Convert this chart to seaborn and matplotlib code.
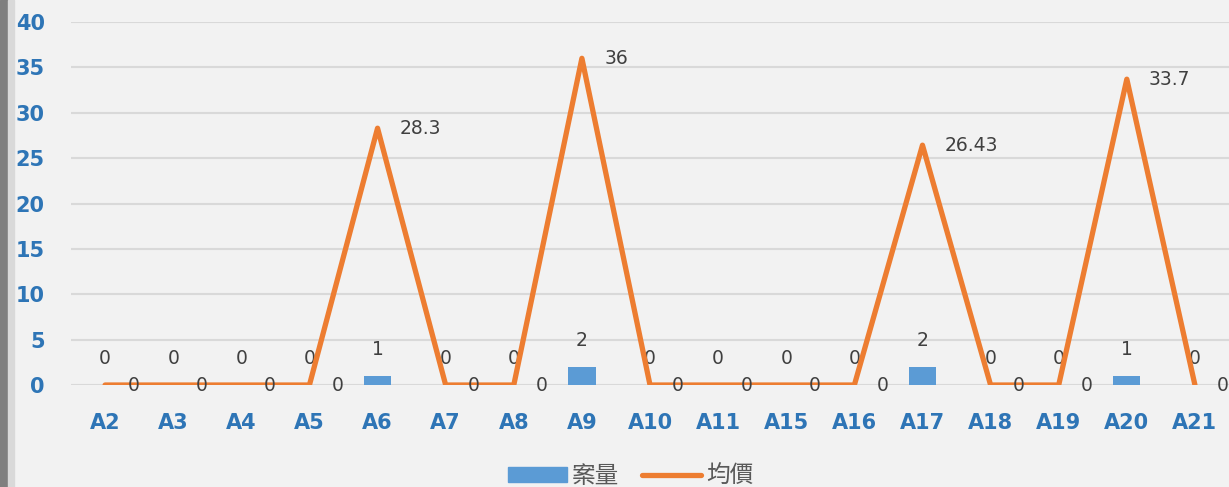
import numpy as np
import pandas as pd
import seaborn as sns
import matplotlib.pyplot as plt
from matplotlib.patches import Rectangle
from matplotlib.lines import Line2D

# data
categories = ['A2', 'A3', 'A4', 'A5', 'A6', 'A7', 'A8', 'A9', 'A10', 'A11',
              'A15', 'A16', 'A17', 'A18', 'A19', 'A20', 'A21']
case_count = [0, 0, 0, 0, 1, 0, 0, 2, 0, 0, 0, 0, 2, 0, 0, 1, 0]
avg_price = [0, 0, 0, 0, 28.3, 0, 0, 36, 0, 0, 0, 0, 26.43, 0, 0, 33.7, 0]
price_labels = ['0', '0', '0', '0', '28.3', '0', '0', '36', '0', '0',
                '0', '0', '26.43', '0', '0', '33.7', '0']
series_names = ['案量', '均價']
y_ticks = [0, 5, 10, 15, 20, 25, 30, 35, 40]

df = pd.DataFrame({'cat': categories, 'count': case_count, 'price': avg_price})
df['pos'] = np.arange(len(df))

bg = '#f2f2f2'
blue = '#5b9bd5'
orange = '#ed7d31'
tick_blue = '#2e75b6'
label_gray = '#404040'

sns.set_style('white')
plt.rcParams['font.family'] = ['DejaVu Sans', 'Noto Sans CJK TC']

fig = plt.figure(figsize=(12.29, 4.87), dpi=100, facecolor=bg)
ax = fig.add_axes([0.0578, 0.2094, 0.9422, 0.7454])
ax.set_facecolor(bg)

# left border strip of the screenshot
fig.patches.append(Rectangle((0, 0), 8 / 1229, 1, transform=fig.transFigure,
                             color='#7f7f7f', zorder=0))
fig.patches.append(Rectangle((8 / 1229, 0), 6 / 1229, 1, transform=fig.transFigure,
                             color='#d9d9d9', zorder=0))

sns.barplot(data=df, x='cat', y='count', color=blue, width=0.4,
            saturation=1, linewidth=0, ax=ax, zorder=3)
sns.lineplot(data=df, x='pos', y='price', color=orange, linewidth=3.8,
             ax=ax, zorder=4, solid_capstyle='round')

# data labels
ax.bar_label(ax.containers[0], labels=[str(v) for v in case_count], padding=12,
             fontsize=13.5, color=label_gray)
for xp, yv, lab in zip(df['pos'], avg_price, price_labels):
    ax.annotate(lab, (xp, yv), xytext=(16, 0), textcoords='offset points',
                ha='left', va='center', fontsize=13.5, color=label_gray,
                annotation_clip=False, zorder=5)

ax.set_xlim(-0.5, len(categories) - 0.5)
ax.set_ylim(0, 40)
ax.set_yticks(y_ticks)
ax.set_xlabel('')
ax.set_ylabel('')
ax.grid(axis='y', color='#d9d9d9', linewidth=1.5, zorder=0)
ax.set_axisbelow(True)
for s in ax.spines.values():
    s.set_visible(False)
ax.tick_params(axis='both', length=0)
ax.tick_params(axis='y', pad=19, labelsize=15, labelcolor=tick_blue)
ax.tick_params(axis='x', pad=20, labelsize=15, labelcolor=tick_blue)
for t in ax.get_xticklabels() + ax.get_yticklabels():
    t.set_fontweight('bold')

handles = [Rectangle((0, 0), 1, 1, color=blue),
           Line2D([0], [0], color=orange, linewidth=3.8, solid_capstyle='round')]
fig.legend(handles, series_names, loc='center', bbox_to_anchor=(0.513, 0.022),
           ncol=2, frameon=False, handlelength=2.5, handleheight=0.6,
           columnspacing=1.0, handletextpad=0.2,
           prop={'family': ['Noto Sans CJK TC', 'DejaVu Sans'], 'size': 17},
           labelcolor='#595959')

fig.savefig('out.png', dpi=100, facecolor=bg)
